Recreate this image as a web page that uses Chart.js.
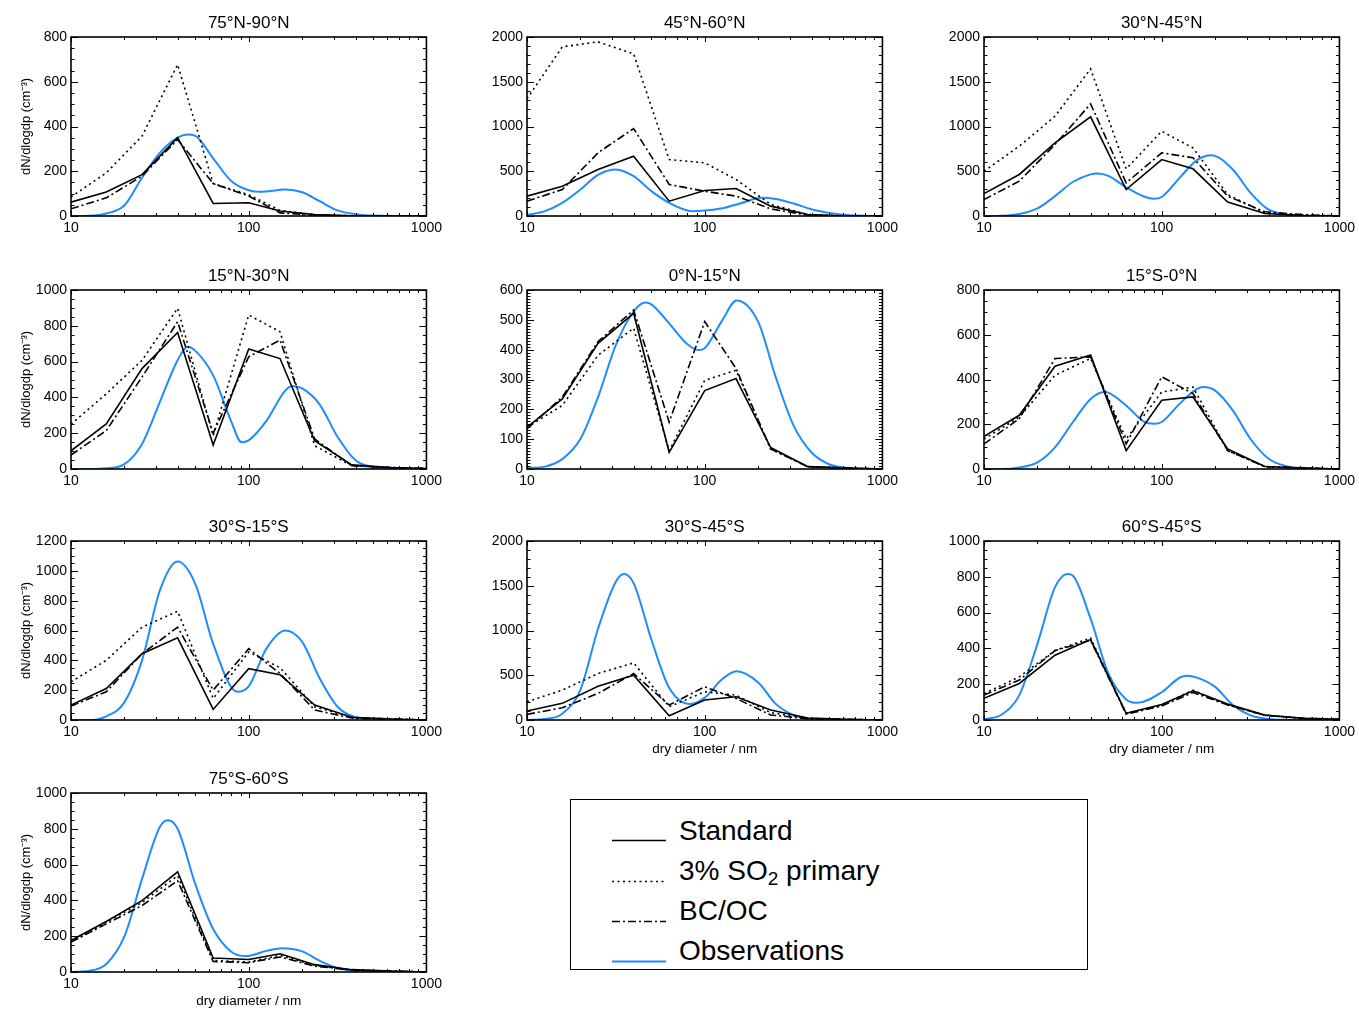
<!DOCTYPE html>
<html>
<head>
<meta charset="utf-8">
<script src="https://cdn.jsdelivr.net/npm/chart.js@4/dist/chart.umd.min.js"></script>
<style>
html,body{margin:0;padding:0;background:#fff;width:1359px;height:1010px;overflow:hidden;position:relative;font-family:"Liberation Sans",Arial,Helvetica,sans-serif;}
canvas.panel{position:absolute;}
#legend{position:absolute;left:570px;top:799px;width:516px;height:169px;border:1.5px solid #000;box-sizing:content-box;}
#legend svg{position:absolute;left:0;top:0;}
#legend .lt{position:absolute;left:108px;font-size:28px;line-height:32px;color:#000;white-space:nowrap;}
#legend .lt sub{font-size:19px;vertical-align:-5px;line-height:0;}
</style>
</head>
<body>
<div id="legend">
  <svg width="516" height="169">
    <line x1="41" y1="40.5" x2="95" y2="40.5" stroke="#000" stroke-width="1.6"/>
    <line x1="41" y1="81.5" x2="95" y2="81.5" stroke="#000" stroke-width="1.6" stroke-dasharray="2 3.5"/>
    <line x1="41" y1="121.5" x2="95" y2="121.5" stroke="#000" stroke-width="1.6" stroke-dasharray="8 3 2 3"/>
    <line x1="41" y1="161.5" x2="95" y2="161.5" stroke="#1e8cff" stroke-width="2"/>
  </svg>
  <div class="lt" style="top:15px">Standard</div>
  <div class="lt" style="top:55px">3% SO<sub>2</sub> primary</div>
  <div class="lt" style="top:95px">BC/OC</div>
  <div class="lt" style="top:135px">Observations</div>
</div>
<script>
// ---------------- data ----------------
const PANEL_TITLES = ['75°N-90°N','45°N-60°N','30°N-45°N','15°N-30°N','0°N-15°N','15°S-0°N','30°S-15°S','30°S-45°S','60°S-45°S','75°S-60°S'];
const SERIES_NAMES = ['Standard','3% SO₂ primary','BC/OC','Observations'];
const Y_MAX  = [800, 2000, 2000, 1000, 600, 800, 1200, 2000, 1000, 1000];
const Y_STEP = [200, 500, 500, 200, 100, 200, 200, 500, 200, 200];
const Y_MINOR_STEP = [50, 100, 100, 50, 10, 50, 50, 100, 50, 50];
const X_TICKS = [10, 100, 1000];
const X_MINOR_TICKS = [20,30,40,50,60,70,80,90,200,300,400,500,600,700,800,900];
const X_TITLE = 'dry diameter / nm';
const Y_TITLE = 'dN/dlogdp (cm⁻³)';

// model size bins (nm)
const BIN_D = [10, 15.8, 25.1, 39.8, 63.1, 100, 150, 235, 380, 630, 1000];

const STANDARD = [
  [62, 107, 185, 350, 56, 59, 22, 7, 1, 0, 0],
  [222, 333, 520, 668, 166, 285, 307, 110, 17, 0, 0],
  [251, 464, 817, 1108, 296, 631, 527, 155, 28, 6, 0],
  [102, 252, 561, 763, 134, 670, 617, 158, 23, 8, 3],
  [140, 235, 421, 522, 56, 263, 303, 72, 8, 3, 0],
  [146, 240, 459, 509, 82, 307, 322, 90, 11, 4, 0],
  [100, 211, 444, 551, 71, 344, 304, 100, 18, 7, 0],
  [100, 186, 378, 501, 48, 223, 260, 111, 22, 7, 0],
  [121, 204, 362, 449, 37, 87, 163, 89, 28, 9, 4],
  [176, 282, 399, 560, 78, 70, 102, 41, 13, 6, 0]
];
const SO2_PRIMARY = [
  [85, 193, 357, 677, 145, 95, 25, 6, 1, 0, 0],
  [1310, 1890, 1946, 1812, 631, 594, 408, 130, 17, 0, 0],
  [501, 780, 1115, 1644, 527, 948, 760, 240, 35, 13, 0],
  [250, 420, 607, 898, 186, 860, 767, 130, 18, 8, 3],
  [140, 213, 381, 472, 61, 297, 331, 67, 8, 3, 0],
  [134, 232, 419, 494, 134, 344, 366, 82, 11, 4, 0],
  [256, 400, 622, 729, 144, 456, 351, 89, 18, 7, 0],
  [204, 334, 519, 638, 148, 315, 278, 82, 18, 7, 0],
  [148, 241, 388, 458, 37, 82, 167, 84, 26, 9, 4],
  [167, 278, 388, 538, 65, 56, 93, 37, 11, 5, 0]
];
const BC_OC = [
  [32, 81, 178, 342, 145, 89, 14, 4, 0, 0, 0],
  [166, 296, 706, 977, 352, 277, 222, 80, 9, 0, 0],
  [184, 389, 799, 1253, 370, 706, 650, 222, 47, 13, 0],
  [78, 215, 514, 823, 200, 627, 720, 168, 18, 8, 3],
  [134, 241, 427, 533, 157, 494, 337, 67, 8, 3, 0],
  [112, 225, 494, 501, 112, 412, 337, 82, 11, 4, 0],
  [93, 189, 444, 622, 200, 478, 311, 67, 13, 7, 0],
  [63, 137, 297, 519, 167, 371, 241, 56, 15, 7, 0],
  [139, 223, 388, 445, 33, 78, 154, 84, 26, 9, 4],
  [167, 269, 371, 510, 59, 52, 84, 33, 11, 5, 0]
];
const OBS_DIAMETERS = [
  [10,12.6,15.8,20,25.1,31.6,39.8,45.4,50.1,63.1,79.4,100,116,161,200,251,316,398,501,631,794,1000],
  [10,12.6,15.8,20,25.1,31.6,39.8,50.1,63.1,84.7,100,126,158,209,251,316,398,501,631,794,1000],
  [10,12.6,15.8,20,25.1,31.6,39.8,43.6,50.1,63.1,79.4,90.4,100,126,158,190,251,316,398,501,631,794,1000],
  [10,12.6,15.8,20,25.1,31.6,39.8,45.4,50.1,63.1,79.4,91.2,100,126,158,175,200,251,316,398,501,631,794,1000],
  [10,12.6,15.8,20,25.1,31.6,39.8,46.5,50.1,63.1,79.4,92.4,100,126,151,200,251,316,398,501,631,794,1000],
  [10,12.6,15.8,20,25.1,31.6,39.8,47.5,50.1,63.1,79.4,90.4,100,126,158,172,200,251,316,398,501,631,794,1000],
  [10,12.6,15.8,20,25.1,31.6,39.8,50.1,63.1,86.3,100,126,161,200,251,316,398,501,631,794,1000],
  [10,12.6,15.8,20,25.1,31.6,35.2,39.8,50.1,63.1,83,100,126,151,200,251,316,398,501,631,794,1000],
  [10,12.6,15.8,20,25.1,29.6,31.6,39.8,50.1,63.1,73,100,126,139,158,200,251,316,398,501,631,794,1000],
  [10,12.6,15.8,20,25.1,31.6,35.1,39.8,50.1,63.1,79.4,96,126,154,200,251,316,398,501,631,794,1000]
];
const OBSERVATIONS = [
  [0,1,11,48,171,282,350,364,358,258,158,115,108,118,106,66,25,8,2,0,0,0],
  [10,54,147,296,460,520,445,278,147,54,61,86,140,203,190,140,75,35,11,2,0],
  [0,3,22,85,222,380,465,475,448,320,218,192,212,426,625,680,520,259,73,17,2,0,0],
  [0,0,4,27,140,374,608,683,660,523,270,149,160,270,430,464,450,360,180,50,10,1,0,0],
  [3,8,33,101,241,415,528,558,552,488,420,399,405,500,565,493,308,146,56,16,4,0,0],
  [0,0,7,30,97,209,313,344,341,284,212,202,210,291,358,366,350,262,134,47,13,4,0,0],
  [0,0,25,120,400,867,1062,911,511,189,225,480,600,524,278,89,18,4,0,0,0],
  [0,11,70,340,1020,1545,1632,1530,900,360,178,250,460,545,420,180,55,12,3,0,0,0],
  [4,31,139,427,742,816,807,566,260,115,96,155,236,247,237,185,84,26,6,1,0,0,0],
  [0,6,45,200,520,810,848,800,490,240,115,89,118,133,115,62,22,6,1,0,0,0]
];

// ---------------- layout / style ----------------
const FONT = '"Liberation Sans", Arial, Helvetica, sans-serif';
const BLUE = '#1e8cff';
const COL_LEFT = [0, 456, 913];
const ROW_TOP = [0, 253, 504, 756];
const CW = 446, CH = 256;

const idlBox = {
  id: 'idlBox',
  afterDatasetsDraw(chart, args, o) {
    const ctx = chart.ctx, a = chart.chartArea, x = chart.scales.x, y = chart.scales.y;
    ctx.save();
    ctx.strokeStyle = '#000';
    ctx.lineWidth = 1;
    ctx.beginPath();
    const n = Math.round(o.yMax / o.minor);
    for (let k = 0; k <= n; k++) {
      const v = k * o.minor;
      const major = Math.abs(v / o.step - Math.round(v / o.step)) < 1e-6;
      const len = major ? 7 : 3.5;
      const py = Math.round(y.getPixelForValue(v)) + 0.5;
      ctx.moveTo(a.left, py); ctx.lineTo(a.left + len, py);
      ctx.moveTo(a.right, py); ctx.lineTo(a.right - len, py);
    }
    const xt = (v, len) => {
      const px = Math.round(x.getPixelForValue(v)) + 0.5;
      ctx.moveTo(px, a.bottom); ctx.lineTo(px, a.bottom - len);
      ctx.moveTo(px, a.top); ctx.lineTo(px, a.top + len);
    };
    X_TICKS.forEach(v => xt(v, 5));
    X_MINOR_TICKS.forEach(v => xt(v, 3));
    ctx.stroke();
    ctx.lineWidth = 1.6;
    ctx.strokeRect(a.left, a.top, a.right - a.left, a.bottom - a.top);
    ctx.restore();
  }
};

for (let i = 0; i < 10; i++) {
  const row = Math.floor(i / 3), col = i % 3;
  const cv = document.createElement('canvas');
  cv.className = 'panel';
  cv.width = CW; cv.height = CH;
  cv.style.left = COL_LEFT[col] + 'px';
  cv.style.top = ROW_TOP[row] + 'px';
  cv.style.width = CW + 'px'; cv.style.height = CH + 'px';
  document.body.appendChild(cv);

  const showY = col === 0;
  const showX = (i >= 7);
  const model = (arr) => BIN_D.map((d, j) => ({x: d, y: arr[i][j]}));

  new Chart(cv, {
    type: 'line',
    data: {
      datasets: [
        {label: SERIES_NAMES[0], data: model(STANDARD), borderColor: '#000', borderWidth: 1.6, tension: 0, pointRadius: 0, fill: false},
        {label: SERIES_NAMES[1], data: model(SO2_PRIMARY), borderColor: '#000', borderWidth: 1.6, borderDash: [2, 3.5], tension: 0, pointRadius: 0, fill: false},
        {label: SERIES_NAMES[2], data: model(BC_OC), borderColor: '#000', borderWidth: 1.6, borderDash: [8, 3, 2, 3], tension: 0, pointRadius: 0, fill: false},
        {label: SERIES_NAMES[3], data: OBS_DIAMETERS[i].map((d, j) => ({x: d, y: OBSERVATIONS[i][j]})),
         borderColor: BLUE, borderWidth: 2, cubicInterpolationMode: 'monotone', pointRadius: 0, fill: false}
      ]
    },
    options: {
      responsive: false,
      animation: false,
      devicePixelRatio: 1,
      events: [],
      layout: {padding: {left: 0, right: 17, top: 0, bottom: 0}},
      plugins: {
        legend: {display: false},
        tooltip: {enabled: false},
        title: {display: true, text: PANEL_TITLES[i], fullSize: false, color: '#000',
                font: {family: FONT, size: 17, weight: 'normal'}, padding: {top: 13, bottom: 3.6}},
        idlBox: {yMax: Y_MAX[i], step: Y_STEP[i], minor: Y_MINOR_STEP[i]}
      },
      scales: {
        x: {
          type: 'logarithmic', min: 10, max: 1000, position: 'bottom',
          grid: {display: false, drawTicks: false}, border: {display: false},
          ticks: {color: '#000', font: {family: FONT, size: 14}, padding: 4, maxRotation: 0, autoSkip: false,
                  callback: v => String(v)},
          afterBuildTicks: s => { s.ticks = X_TICKS.map(v => ({value: v})); },
          afterFit: s => { s.height = 40; },
          title: {display: showX, text: X_TITLE, color: '#000', font: {family: FONT, size: 13.5}, padding: {top: 0, bottom: 3}}
        },
        y: {
          min: 0, max: Y_MAX[i], position: 'left',
          grid: {display: false, drawTicks: false}, border: {display: false},
          ticks: {stepSize: Y_STEP[i], color: '#000', font: {family: FONT, size: 14}, padding: 4,
                  callback: v => String(v)},
          afterFit: s => { s.width = 71; },
          title: {display: showY, text: Y_TITLE, color: '#000', font: {family: FONT, size: 13}, padding: {top: 19, bottom: 0}}
        }
      }
    },
    plugins: [idlBox]
  });
}
</script>
</body>
</html>
